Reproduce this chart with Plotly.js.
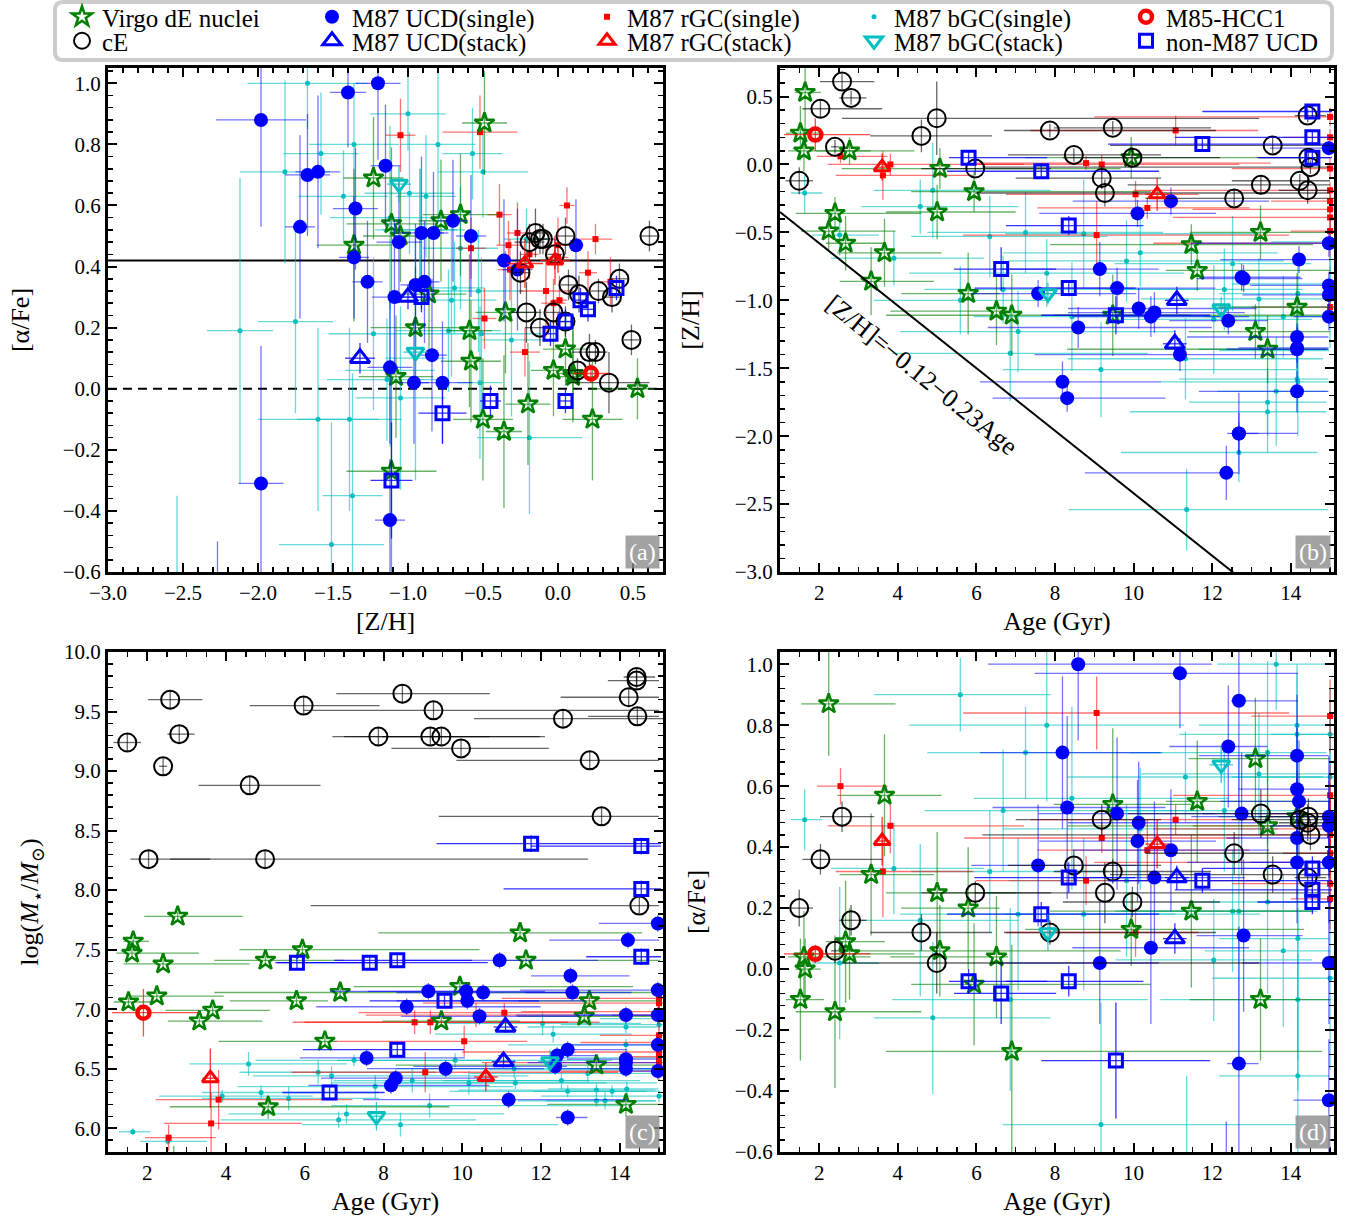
<!DOCTYPE html>
<html>
<head>
<meta charset="utf-8">
<script src="https://cdn.plot.ly/plotly-3.0.1.min.js"></script>
<style>
  body { margin: 0; background: #fff; }
  #chart { width: 1345px; height: 1221px; }
</style>
</head>
<body>
<div id="chart"></div>
<script>
// values; ages in Gyr, errors as (lo, hi) for age

// Virgo dE nuclei
const dE_age    = [1.52, 1.61, 1.64, 2.24, 2.40, 2.67, 2.77, 3.32, 3.66, 5.00, 5.07, 5.79, 5.94, 6.51, 6.90, 9.47, 9.94, 11.47, 11.62, 13.10, 13.23, 13.41, 14.16];
const dE_ageLo  = [0.37, 0.40, 0.25, 0.70, 1.00, 0.50, 0.85, 0.80, 1.20, 1.30, 2.50, 1.70, 1.60, 2.70, 3.20, 1.50, 2.70, 3.60, 0.80, 1.70, 1.80, 5.10, 2.00];
const dE_ageHi  = [0.60, 1.70, 0.40, 1.70, 2.20, 1.00, 1.65, 1.60, 1.45, 2.00, 4.60, 0.80, 4.50, 0.30, 7.90, 2.00, 4.40, 3.10, 3.40, 1.90, 1.80, 1.50, 0.90];
const dE_zh     = [0.23, 0.10, 0.53, -0.49, -0.36, -0.58, 0.10, -0.86, -0.65, -0.35, -0.03, -0.95, -0.20, -1.08, -1.11, -1.11, 0.05, -0.59, -0.78, -1.23, -0.50, -1.36, -1.05];
const dE_zhErr  = [0.20, 0.15, 0.30, 0.15, 0.12, 0.20, 0.10, 0.25, 0.25, 0.20, 0.15, 0.30, 0.15, 0.25, 0.30, 0.30, 0.15, 0.15, 0.15, 0.20, 0.20, 0.25, 0.25];
const dE_afe    = [-0.10, 0.04, 0.00, 0.87, -0.14, 0.09, 0.05, 0.31, 0.57, 0.25, 0.06, 0.20, -0.05, 0.04, -0.27, 0.54, 0.13, 0.19, 0.55, 0.69, -0.10, 0.47, 0.50];
const dE_afeErr = [0.20, 0.15, 0.10, 0.17, 0.25, 0.20, 0.15, 0.20, 0.20, 0.20, 0.15, 0.20, 0.20, 0.20, 0.35, 0.25, 0.12, 0.25, 0.20, 0.20, 0.20, 0.25, 0.15];
const dE_mass   = [7.06, 7.47, 7.57, 7.11, 7.38, 5.70, 7.78, 6.90, 6.99, 7.41, 6.18, 7.07, 7.50, 6.73, 7.14, 6.90, 7.19, 7.64, 7.41, 6.94, 7.07, 6.53, 6.20];
const dE_massErr= [0.04, 0.04, 0.04, 0.04, 0.04, 0.15, 0.04, 0.04, 0.04, 0.04, 0.10, 0.04, 0.04, 0.04, 0.04, 0.04, 0.04, 0.04, 0.04, 0.04, 0.04, 0.04, 0.10];

// cE
const cE_age    = [1.49, 2.03, 2.40, 2.58, 2.81, 4.60, 4.99, 5.97, 7.87, 8.48, 9.19, 9.27, 9.47, 9.97, 12.56, 13.24, 13.54, 14.23, 14.43, 14.43, 14.45, 14.50];
const cE_ageLo  = [0.35, 0.46, 0.10, 0.56, 0.30, 1.30, 2.41, 1.37, 1.17, 1.68, 2.19, 3.30, 1.50, 1.77, 2.26, 3.39, 4.14, 1.73, 0.73, 0.33, 1.25, 8.35];
const cE_ageHi  = [0.35, 1.57, 0.10, 0.82, 0.39, 1.80, 8.21, 1.93, 4.23, 2.22, 1.51, 5.73, 2.50, 2.23, 2.54, 1.76, 1.46, 0.77, 0.57, 0.47, 0.55, 0.50];
const cE_zh     = [-0.12, 0.41, 0.13, 0.61, 0.49, 0.21, 0.34, -0.03, 0.25, 0.07, -0.10, -0.21, 0.27, 0.05, -0.25, -0.15, 0.14, -0.12, -0.19, 0.36, 0.05, -0.02];
const cE_zhErr  = [0.10, 0.06, 0.05, 0.06, 0.05, 0.12, 0.27, 0.05, 0.05, 0.05, 0.08, 0.10, 0.05, 0.06, 0.06, 0.07, 0.06, 0.05, 0.10, 0.05, 0.05, 0.05];
const cE_afe    = [0.20, 0.36, 0.06, 0.50, 0.16, 0.12, 0.02, 0.25, 0.12, 0.34, 0.49, 0.25, 0.32, 0.22, 0.38, 0.51, 0.31, 0.49, 0.48, 0.30, 0.50, 0.44];
const cE_afeErr = [0.06, 0.05, 0.04, 0.05, 0.05, 0.06, 0.10, 0.04, 0.04, 0.05, 0.05, 0.10, 0.04, 0.05, 0.07, 0.08, 0.06, 0.05, 0.06, 0.05, 0.06, 0.05];
const cE_mass   = [9.24, 8.26, 9.04, 9.60, 9.31, 8.88, 8.26, 9.55, 9.29, 9.65, 9.29, 9.51, 9.29, 9.19, 9.44, 9.09, 8.62, 9.62, 9.76, 9.79, 9.46, 7.87];
const cE_massErr= [0.08, 0.08, 0.08, 0.08, 0.08, 0.08, 0.08, 0.08, 0.08, 0.08, 0.08, 0.08, 0.08, 0.08, 0.08, 0.08, 0.08, 0.08, 0.08, 0.08, 0.08, 0.08];

// M87 UCD (single)
const ucd_age    = [7.57, 8.19, 8.31, 8.59, 9.14, 9.58, 10.10, 10.13, 10.44, 10.53, 10.95, 11.18, 12.36, 12.41, 12.68, 12.68, 12.75, 12.80, 14.16, 14.16, 14.16, 14.16, 14.21, 14.97, 14.97, 14.97, 14.97, 14.97];
const ucd_ageLo  = [1.70, 2.10, 1.90, 2.30, 2.50, 2.00, 2.50, 1.80, 2.00, 2.20, 2.50, 3.70, 3.60, 1.50, 0.20, 0.30, 1.00, 1.20, 2.80, 1.50, 1.80, 2.50, 2.00, 1.50, 3.50, 2.00, 2.20, 0.90];
const ucd_ageHi  = [2.50, 2.50, 2.50, 3.40, 1.50, 2.50, 2.00, 3.00, 2.50, 2.30, 2.50, 3.00, 0.30, 1.00, 1.50, 0.50, 1.50, 1.50, 0.80, 0.80, 0.80, 0.80, 0.80, 0.10, 0.10, 0.10, 0.10, 0.10];
const ucd_zh     = [-0.95, -1.60, -1.72, -1.20, -0.77, -0.91, -0.36, -1.06, -1.12, -1.09, -0.27, -1.40, -2.27, -1.15, -1.98, -1.98, -0.83, -0.84, -1.27, -1.35, -1.36, -1.67, -0.70, 0.12, -0.58, -0.89, -0.96, -1.12];
const ucd_zhErr  = [0.10, 0.15, 0.10, 0.15, 0.20, 0.15, 0.10, 0.15, 0.15, 0.15, 0.10, 0.12, 0.20, 0.10, 0.30, 0.15, 0.10, 0.10, 0.10, 0.15, 0.10, 0.15, 0.10, 0.05, 0.10, 0.10, 0.10, 0.10];
const ucd_afe    = [0.34, 0.71, 0.53, 1.00, 0.02, 0.51, 0.42, 0.48, 0.07, 0.30, 0.39, 0.97, -0.75, 0.73, 0.88, -0.31, 0.51, 0.11, 0.35, 0.59, 0.43, 0.70, 0.55, 0.47, 0.50, 0.35, 0.02, -0.43];
const ucd_afeErr = [0.20, 0.25, 0.30, 0.25, 0.20, 0.25, 0.20, 0.20, 0.25, 0.25, 0.20, 0.18, 0.25, 0.20, 0.35, 0.45, 0.20, 0.25, 0.20, 0.20, 0.20, 0.20, 0.20, 0.15, 0.20, 0.20, 0.20, 0.20];
const ucd_mass   = [6.59, 6.36, 6.42, 7.02, 7.15, 6.50, 7.15, 7.07, 6.94, 7.14, 7.41, 6.24, 6.52, 6.61, 6.66, 6.09, 7.28, 7.14, 6.95, 6.58, 6.50, 6.55, 7.58, 7.72, 7.16, 6.95, 6.70, 6.48];
const ucd_massErr= [0.07, 0.07, 0.07, 0.07, 0.07, 0.07, 0.07, 0.07, 0.07, 0.07, 0.07, 0.07, 0.07, 0.07, 0.07, 0.07, 0.07, 0.07, 0.07, 0.07, 0.07, 0.07, 0.07, 0.07, 0.07, 0.07, 0.07, 0.07];

// M87 red GCs (single)
const rgc_age    = [2.54, 3.62, 3.81, 8.79, 9.06, 9.19, 10.05, 10.35, 11.07, 15.0, 15.0, 15.0, 15.0, 15.0, 15.0, 15.0, 15.0, 15.0, 15.0];
const rgc_ageLo  = [0.60, 1.20, 1.60, 2.80, 3.40, 3.50, 3.30, 2.80, 3.70, 2.00, 4.00, 3.50, 1.50, 5.00, 2.50, 1.20, 6.00, 1.00, 4.50];
const rgc_ageHi  = [1.20, 2.30, 3.40, 4.70, 4.90, 3.50, 1.60, 2.60, 2.10, 0.10, 0.10, 0.10, 0.10, 0.10, 0.10, 0.10, 0.10, 0.10, 0.10];
const rgc_zh     = [0.06, -0.08, 0.00, 0.01, -0.52, 0.00, -0.22, -0.32, 0.25, -1.05, -0.39, -0.33, -0.27, -0.19, -0.03, 0.20, 0.35, -0.49, -0.58];
const rgc_zhErr  = [0.05, 0.18, 0.08, 0.05, 0.25, 0.07, 0.10, 0.08, 0.11, 0.10, 0.08, 0.08, 0.07, 0.06, 0.08, 0.06, 0.07, 0.08, 0.10];
const rgc_afe    = [0.60, 0.32, 0.47, 0.29, 0.84, 0.43, 0.12, 0.39, 0.49, 0.83, 0.57, 0.47, 0.51, 0.44, 0.28, 0.38, 0.35, 0.23, 0.46];
const rgc_afeErr = [0.06, 0.15, 0.09, 0.08, 0.12, 0.05, 0.08, 0.10, 0.05, 0.12, 0.10, 0.08, 0.10, 0.08, 0.08, 0.07, 0.08, 0.10, 0.10];
const rgc_mass   = [5.92, 6.04, 6.24, 6.89, 6.47, 6.89, 6.73, 6.95, 6.97, 6.72, 7.09, 6.98, 6.78, 6.64, 6.48, 6.95, 7.05, 6.60, 6.55];
const rgc_massErr= [0.11, 0.26, 0.25, 0.10, 0.17, 0.10, 0.13, 0.10, 0.08, 0.08, 0.08, 0.08, 0.08, 0.08, 0.08, 0.08, 0.08, 0.08, 0.08];

// M87 blue GCs (single)
const bgc_age    = [1.63, 2.52, 3.90, 4.57, 4.89, 5.59, 6.34, 6.68, 6.86, 7.06, 7.25, 7.79, 8.43, 8.73, 9.17, 9.82, 10.17, 11.32, 11.35, 12.04, 12.31, 12.52, 12.68, 13.19, 13.41, 13.41, 13.63, 13.81, 14.16, 14.16, 14.18, 14.18, 14.18, 15.00, 15.00, 15.00];
const bgc_ageLo  = [0.35, 0.70, 1.60, 1.50, 1.50, 2.20, 2.00, 2.00, 3.00, 3.00, 2.50, 3.50, 2.50, 2.00, 2.50, 3.00, 3.50, 3.00, 3.00, 2.50, 3.00, 3.00, 3.00, 3.00, 3.50, 2.00, 1.50, 2.00, 2.50, 3.00, 2.00, 3.50, 2.00, 1.50, 2.50, 3.00];
const bgc_ageHi  = [0.45, 1.00, 2.30, 2.50, 3.00, 2.30, 3.00, 5.00, 3.50, 4.00, 3.50, 3.50, 4.00, 4.50, 5.00, 4.00, 3.50, 3.50, 3.60, 2.50, 2.00, 2.00, 2.00, 1.80, 1.50, 1.50, 1.30, 1.20, 0.80, 0.80, 0.80, 0.80, 0.80, 0.10, 0.10, 0.10];
const bgc_zh     = [-0.21, -0.52, -0.69, -0.31, -0.19, -1.00, -0.53, -0.92, -1.39, -1.23, -0.50, -0.80, -1.12, -0.51, -1.51, -0.71, -0.65, -1.43, -2.54, -1.14, -0.92, -0.73, -2.12, -0.99, -1.82, -1.75, -1.67, -1.12, -1.36, -1.58, -0.95, -1.60, -1.37, -0.57, -0.88, -1.05];
const bgc_zhErr  = [0.15, 0.15, 0.20, 0.20, 0.35, 0.25, 0.30, 0.25, 0.35, 0.30, 0.30, 0.25, 0.40, 0.40, 0.35, 0.30, 0.25, 0.30, 0.30, 0.40, 0.30, 0.35, 0.22, 0.30, 0.30, 0.25, 0.40, 0.30, 0.30, 0.25, 0.20, 0.40, 0.20, 0.20, 0.20, 0.30];
const bgc_afe    = [0.49, 0.02, 0.33, 0.16, -0.16, 0.90, 0.32, 0.52, -0.10, 0.18, 0.71, 0.80, 0.56, 0.18, -0.51, 0.29, 0.46, 0.63, -0.75, 0.03, 0.52, 0.19, 0.19, 0.64, 0.71, 0.22, 1.00, 0.06, 0.80, 0.77, 0.10, -0.10, -0.35, 0.77, 0.63, -0.03];
const bgc_afeErr = [0.10, 0.25, 0.15, 0.25, 0.25, 0.12, 0.20, 0.20, 0.30, 0.25, 0.15, 0.25, 0.30, 0.25, 0.40, 0.25, 0.20, 0.15, 0.40, 0.20, 0.20, 0.20, 0.50, 0.20, 0.30, 0.30, 0.15, 0.25, 0.20, 0.20, 0.40, 0.30, 0.40, 0.15, 0.20, 0.30];
const bgc_mass   = [5.97, 5.89, 6.27, 6.54, 6.30, 6.25, 6.47, 6.44, 6.07, 6.12, 6.57, 6.35, 6.03, 6.40, 6.19, 6.57, 6.38, 6.50, 6.38, 6.88, 6.79, 6.40, 6.31, 6.46, 6.32, 6.23, 6.23, 6.31, 6.85, 6.70, 6.59, 6.49, 6.33, 6.92, 6.87, 6.27];
const bgc_massErr= [0.03, 0.03, 0.05, 0.10, 0.06, 0.10, 0.10, 0.08, 0.07, 0.08, 0.05, 0.10, 0.10, 0.10, 0.10, 0.06, 0.10, 0.08, 0.05, 0.10, 0.07, 0.07, 0.05, 0.07, 0.05, 0.05, 0.07, 0.05, 0.05, 0.05, 0.07, 0.05, 0.06, 0.05, 0.05, 0.05];

// M85-HCC1
const hcc_age = [1.90], hcc_ageLo = [0.80], hcc_ageHi = [1.40];
const hcc_zh = [0.22], hcc_zhErr = [0.12], hcc_afe = [0.05], hcc_afeErr = [0.03];
const hcc_mass = [6.97], hcc_massErr = [0.20];

// stacked spectra
const ucdS_age = [11.10, 11.05], ucdS_ageLo = [0.30, 0.30], ucdS_ageHi = [0.30, 0.30];
const ucdS_zh = [-1.00, -1.32], ucdS_zhErr = [0.10, 0.10], ucdS_afe = [0.30, 0.10], ucdS_afeErr = [0.04, 0.05];
const ucdS_mass = [6.85, 6.56], ucdS_massErr = [0.05, 0.05];

const rgcS_age = [3.60, 10.60], rgcS_ageLo = [0.20, 0.30], rgcS_ageHi = [0.20, 0.30];
const rgcS_zh = [-0.02, -0.22], rgcS_zhErr = [0.10, 0.12], rgcS_afe = [0.42, 0.41], rgcS_afeErr = [0.08, 0.08];
const rgcS_mass = [6.42, 6.43], rgcS_massErr = [0.25, 0.12];

const bgcS_age = [7.82, 12.23], bgcS_ageLo = [0.20, 0.30], bgcS_ageHi = [0.20, 0.30];
const bgcS_zh = [-0.95, -1.06], bgcS_zhErr = [0.08, 0.08], bgcS_afe = [0.12, 0.67], bgcS_afeErr = [0.06, 0.06];
const bgcS_mass = [6.10, 6.56], bgcS_massErr = [0.12, 0.10];

// non-M87 UCDs
const nu_age    = [5.80, 6.63, 7.65, 8.35, 8.35, 9.55, 11.75, 14.55, 14.55, 14.55];
const nu_ageLo  = [0.50, 1.20, 2.40, 1.60, 2.40, 1.90, 2.40, 2.80, 3.50, 1.40];
const nu_ageHi  = [2.00, 1.40, 3.00, 1.90, 1.70, 2.40, 3.30, 0.50, 0.50, 0.50];
const nu_zh     = [0.05, -0.77, -0.05, -0.45, -0.91, -1.11, 0.15, 0.39, 0.20, 0.05];
const nu_zhErr  = [0.05, 0.16, 0.04, 0.07, 0.06, 0.14, 0.05, 0.05, 0.04, 0.04];
const nu_afe    = [-0.04, -0.08, 0.18, -0.04, 0.30, -0.30, 0.29, 0.33, 0.26, 0.22];
const nu_afeErr = [0.04, 0.10, 0.04, 0.05, 0.05, 0.19, 0.04, 0.04, 0.04, 0.04];
const nu_mass   = [7.39, 6.30, 7.39, 7.41, 6.66, 7.07, 8.39, 8.37, 8.01, 7.44];
const nu_massErr= [0.06, 0.06, 0.06, 0.06, 0.06, 0.05, 0.07, 0.07, 0.07, 0.07];

// reference lines
const afeLine = 0.42;
const zhAgeFit = { intercept: -0.12, slope: -0.23 };

const ageRange = [1, 15.1];

// ---- styling per sample, in drawing order ----
const groups = [
  { name: "M87 bGC(single)", rank: 4, d: [bgc_age, bgc_ageLo, bgc_ageHi, bgc_zh, bgc_zhErr, bgc_afe, bgc_afeErr, bgc_mass, bgc_massErr],
    symbol: "circle", size: 5, color: "#00bfbf", lw: 0, err: "rgba(0,191,191,0.6)" },
  { name: "M87 rGC(single)", rank: 3, d: [rgc_age, rgc_ageLo, rgc_ageHi, rgc_zh, rgc_zhErr, rgc_afe, rgc_afeErr, rgc_mass, rgc_massErr],
    symbol: "square", size: 6, color: "#ff0000", lw: 0, err: "rgba(255,0,0,0.55)" },
  { name: "Virgo dE nuclei", rank: 1, d: [dE_age, dE_ageLo, dE_ageHi, dE_zh, dE_zhErr, dE_afe, dE_afeErr, dE_mass, dE_massErr],
    symbol: "star-open", size: 15, color: "#008000", lw: 2.5, err: "rgba(0,128,0,0.6)" },
  { name: "M87 UCD(single)", rank: 2, d: [ucd_age, ucd_ageLo, ucd_ageHi, ucd_zh, ucd_zhErr, ucd_afe, ucd_afeErr, ucd_mass, ucd_massErr],
    symbol: "circle", size: 14, color: "#0000ff", lw: 0, err: "rgba(0,0,255,0.55)" },
  { name: "cE", rank: 6, d: [cE_age, cE_ageLo, cE_ageHi, cE_zh, cE_zhErr, cE_afe, cE_afeErr, cE_mass, cE_massErr],
    symbol: "circle-open", size: 18, color: "#000000", lw: 2, err: "rgba(0,0,0,0.6)" },
  { name: "non-M87 UCD", rank: 10, d: [nu_age, nu_ageLo, nu_ageHi, nu_zh, nu_zhErr, nu_afe, nu_afeErr, nu_mass, nu_massErr],
    symbol: "square-open", size: 13, color: "#0000ff", lw: 3, err: "rgba(0,0,255,0.8)" },
  { name: "M87 UCD(stack)", rank: 7, d: [ucdS_age, ucdS_ageLo, ucdS_ageHi, ucdS_zh, ucdS_zhErr, ucdS_afe, ucdS_afeErr, ucdS_mass, ucdS_massErr],
    symbol: "triangle-up-open", size: 17, color: "#0000ff", lw: 3, err: "rgba(0,0,255,0.8)" },
  { name: "M87 rGC(stack)", rank: 8, d: [rgcS_age, rgcS_ageLo, rgcS_ageHi, rgcS_zh, rgcS_zhErr, rgcS_afe, rgcS_afeErr, rgcS_mass, rgcS_massErr],
    symbol: "triangle-up-open", size: 14, color: "#ff0000", lw: 3, err: "rgba(255,0,0,0.8)" },
  { name: "M87 bGC(stack)", rank: 9, d: [bgcS_age, bgcS_ageLo, bgcS_ageHi, bgcS_zh, bgcS_zhErr, bgcS_afe, bgcS_afeErr, bgcS_mass, bgcS_massErr],
    symbol: "triangle-down-open", size: 15, color: "#00bfbf", lw: 3, err: "rgba(0,191,191,0.8)" },
  { name: "M85-HCC1", rank: 5, d: [hcc_age, hcc_ageLo, hcc_ageHi, hcc_zh, hcc_zhErr, hcc_afe, hcc_afeErr, hcc_mass, hcc_massErr],
    symbol: "circle-open", size: 12, color: "#ff0000", lw: 4.5, err: "rgba(255,0,0,0.7)" },
];

// legend grid: 5 columns x 2 rows, one small legend per entry (px of marker centre)
const legendCols = [82, 332, 607, 874, 1146];
const legendRows = [17, 41];
const legendId = (rank) => (rank === 1 ? "legend" : "legend" + rank);

// which columns go on which panel: (a) [Z/H]-[a/Fe], (b) age-[Z/H], (c) age-mass, (d) age-[a/Fe]
const panels = [
  { xa: "x",  ya: "y",  x: "zh",  y: "afe" },
  { xa: "x2", ya: "y2", x: "age", y: "zh" },
  { xa: "x3", ya: "y3", x: "age", y: "mass" },
  { xa: "x4", ya: "y4", x: "age", y: "afe" },
];

function column(g, key) {
  const [age, ageLo, ageHi, zh, zhErr, afe, afeErr, mass, massErr] = g.d;
  if (key === "age") return { v: age, e: { type: "data", symmetric: false, array: ageHi, arrayminus: ageLo } };
  if (key === "zh") return { v: zh, e: { type: "data", array: zhErr } };
  if (key === "afe") return { v: afe, e: { type: "data", array: afeErr } };
  return { v: mass, e: { type: "data", array: massErr } };
}

const traces = [];

panels.forEach((p, i) => {
  groups.forEach((g) => {
    const cx = column(g, p.x);
    const cy = column(g, p.y);
    const errStyle = { color: g.err, thickness: 1.3, width: 0 };

    traces.push({
      type: "scatter",
      mode: "markers",
      name: g.name,
      legend: legendId(g.rank),
      legendgroup: g.name,
      showlegend: i === 0,
      xaxis: p.xa,
      yaxis: p.ya,
      x: cx.v,
      y: cy.v,
      error_x: Object.assign({}, cx.e, errStyle),
      error_y: Object.assign({}, cy.e, errStyle),
      marker: { symbol: g.symbol, size: g.size, color: g.color, line: { color: g.color, width: g.lw } },
      hoverinfo: "skip",
    });
  });
});

// [Z/H] = -0.12 - 0.23 Age on panel (b)
traces.push({
  type: "scatter",
  mode: "lines",
  xaxis: "x2",
  yaxis: "y2",
  x: ageRange,
  y: ageRange.map((a) => zhAgeFit.intercept + zhAgeFit.slope * a),
  line: { color: "#000", width: 2 },
  showlegend: false,
  hoverinfo: "skip",
});

const FONT = "Liberation Serif, DejaVu Serif, serif";
const W = 1345, H = 1221;

function axis(extra) {
  return Object.assign(
    {
      showline: true,
      linecolor: "#000",
      linewidth: 3,
      mirror: "allticks",
      ticks: "inside",
      ticklen: 9,
      tickwidth: 2,
      tickcolor: "#000",
      showgrid: false,
      zeroline: false,
      tickfont: { size: 21, color: "#000", family: FONT },
    },
    extra
  );
}

function minor(dtick) {
  return { ticks: "inside", ticklen: 5, tickwidth: 1.5, tickcolor: "#000", dtick: dtick, showgrid: false };
}

const ttl = (text, standoff) => ({ text: text, font: { size: 26, color: "#000", family: FONT }, standoff: standoff });

const colL = [0.0803, 0.4929];
const colR = [0.5799, 0.9918];
const rowT = [0.5315, 0.9443];
const rowB = [0.0565, 0.466];

// rounded legend frame, in paper units
const fx0 = 55 / W, fx1 = 1332 / W, fy0 = 1 - 60 / H, fy1 = 1 - 2 / H;
const rx = 8 / W, ry = 8 / H;
const framePath =
  `M ${fx0 + rx},${fy0} L ${fx1 - rx},${fy0} Q ${fx1},${fy0} ${fx1},${fy0 + ry} ` +
  `L ${fx1},${fy1 - ry} Q ${fx1},${fy1} ${fx1 - rx},${fy1} L ${fx0 + rx},${fy1} ` +
  `Q ${fx0},${fy1} ${fx0},${fy1 - ry} L ${fx0},${fy0 + ry} Q ${fx0},${fy0} ${fx0 + rx},${fy0} Z`;

const layout = {
  width: W,
  height: H,
  margin: { l: 0, r: 0, t: 0, b: 0, autoexpand: false },
  paper_bgcolor: "#fff",
  plot_bgcolor: "#fff",
  font: { family: FONT, color: "#000" },

  xaxis: axis({ domain: colL, anchor: "y", range: [-3.0, 0.7], dtick: 0.5, tick0: 0, tickformat: ".1f", minor: minor(0.1), title: ttl("[Z/H]", 8) }),
  yaxis: axis({ domain: rowT, anchor: "x", range: [-0.6, 1.05], dtick: 0.2, tick0: 0, tickformat: ".1f", minor: minor(0.04), title: ttl("[α/Fe]", 26) }),

  xaxis2: axis({ domain: colR, anchor: "y2", range: ageRange, dtick: 2, tick0: 0, minor: minor(0.5), title: ttl("Age (Gyr)", 8) }),
  yaxis2: axis({ domain: rowT, anchor: "x2", range: [-3.0, 0.71], dtick: 0.5, tick0: 0, tickformat: ".1f", minor: minor(0.1), title: ttl("[Z/H]", 28) }),

  xaxis3: axis({ domain: colL, anchor: "y3", range: ageRange, dtick: 2, tick0: 0, minor: minor(0.5), title: ttl("Age (Gyr)", 8) }),
  yaxis3: axis({ domain: rowB, anchor: "x3", range: [5.8, 10.0], dtick: 0.5, tick0: 0, tickformat: ".1f", minor: minor(0.1),
    title: ttl("log(<i>M</i><sub>⋆</sub>/<i>M</i><sub>⊙</sub>)", 18) }),

  xaxis4: axis({ domain: colR, anchor: "y4", range: ageRange, dtick: 2, tick0: 0, minor: minor(0.5), title: ttl("Age (Gyr)", 8) }),
  yaxis4: axis({ domain: rowB, anchor: "x4", range: [-0.6, 1.04], dtick: 0.2, tick0: 0, tickformat: ".1f", minor: minor(0.04), title: ttl("[α/Fe]", 22) }),

  shapes: [
    { type: "path", xref: "paper", yref: "paper", path: framePath, line: { color: "#cccccc", width: 4 }, fillcolor: "#fff", layer: "below" },
    { type: "line", xref: "x domain", yref: "y", x0: 0, x1: 1, y0: afeLine, y1: afeLine, line: { color: "#000", width: 2 }, layer: "below" },
    { type: "line", xref: "x domain", yref: "y", x0: 0, x1: 1, y0: 0, y1: 0, line: { color: "#000", width: 2, dash: "9px,6px" }, layer: "below" },
  ],

  annotations: [
    ["x", "y", "(a)"],
    ["x2", "y2", "(b)"],
    ["x3", "y3", "(c)"],
    ["x4", "y4", "(d)"],
  ].map(([xa, ya, label]) => ({
    xref: xa + " domain",
    yref: ya + " domain",
    x: 0.994,
    y: 0.006,
    xanchor: "right",
    yanchor: "bottom",
    text: label,
    showarrow: false,
    bgcolor: "rgba(140,140,140,0.8)",
    borderpad: 3,
    font: { size: 24, color: "#fff", family: FONT },
  })).concat([
    {
      xref: "x2",
      yref: "y2",
      x: 4.62,
      y: zhAgeFit.intercept + zhAgeFit.slope * 4.62 - 0.37,
      text: "[Z/H]=−0.12−0.23Age",
      textangle: 39,
      showarrow: false,
      font: { size: 26, color: "#000", family: FONT },
    },
  ]),
};

groups.forEach((g) => {
  const slot = g.rank - 1;
  layout[legendId(g.rank)] = {
    x: (legendCols[slot % 5] - 20) / W,
    y: 1 - legendRows[Math.floor(slot / 5)] / H,
    xanchor: "left",
    yanchor: "middle",
    bgcolor: "rgba(0,0,0,0)",
    borderwidth: 0,
    font: { size: 25, color: "#000", family: FONT },
  };
});

Plotly.newPlot("chart", traces, layout, { displayModeBar: false, staticPlot: true });
</script>
</body>
</html>
